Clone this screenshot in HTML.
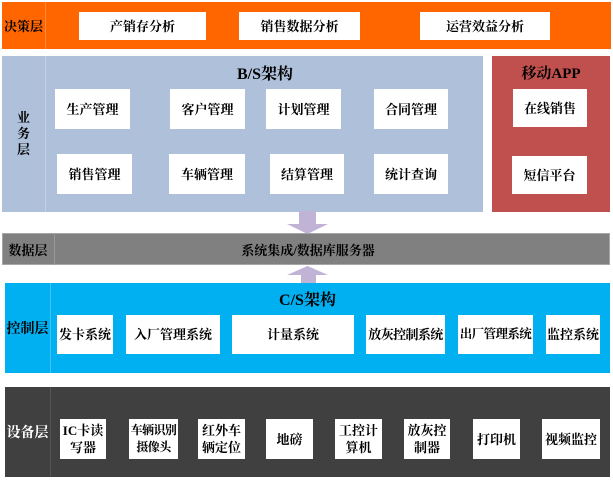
<!DOCTYPE html>
<html><head><meta charset="utf-8"><style>
*{margin:0;padding:0;box-sizing:border-box}
body{width:613px;height:480px;position:relative;background:#fff;overflow:hidden;font-family:"Liberation Serif","Noto Serif CJK SC",serif;font-weight:bold;color:#000}
.a{position:absolute}
.b{position:absolute;background:#fff;display:flex;align-items:center;justify-content:center;text-align:center;font-size:13px;line-height:17px;white-space:nowrap}
.lbl{position:absolute;display:flex;align-items:center;justify-content:center;font-size:13px;text-align:center}
.sep{position:absolute;width:1px}
.t{letter-spacing:-0.6px}
</style></head><body>
<!-- decision -->
<div class="a" style="left:2px;top:2px;width:609px;height:47px;background:#FF6600"></div>
<div class="sep" style="left:45px;top:2px;height:47px;background:#FF8A40"></div>
<div class="lbl" style="left:2px;top:2px;width:43px;height:47px">决策层</div>
<div class="b" style="left:79px;top:12px;width:127px;height:28px">产销存分析</div>
<div class="b" style="left:239px;top:12px;width:121px;height:28px">销售数据分析</div>
<div class="b" style="left:420px;top:12px;width:130px;height:28px">运营效益分析</div>
<!-- business -->
<div class="a" style="left:2px;top:56px;width:481px;height:156px;background:#AFC1DA"></div>
<div class="sep" style="left:45px;top:56px;height:156px;background:#C3D1E4"></div>
<div class="lbl" style="left:2px;top:56px;width:43px;height:156px;line-height:16px">业<br>务<br>层</div>
<div class="lbl" style="left:200px;top:62px;width:130px;height:20px;font-size:16px">B/S架构</div>
<div class="b" style="left:55px;top:89px;width:75px;height:40px">生产管理</div>
<div class="b" style="left:170px;top:89px;width:75px;height:40px">客户管理</div>
<div class="b" style="left:266px;top:89px;width:75px;height:40px">计划管理</div>
<div class="b" style="left:374px;top:89px;width:74px;height:40px">合同管理</div>
<div class="b" style="left:57px;top:154px;width:75px;height:40px">销售管理</div>
<div class="b" style="left:169px;top:154px;width:76px;height:40px">车辆管理</div>
<div class="b" style="left:270px;top:154px;width:74px;height:40px">结算管理</div>
<div class="b" style="left:374px;top:154px;width:74px;height:40px">统计查询</div>
<!-- mobile -->
<div class="a" style="left:492px;top:56px;width:118px;height:156px;background:#C0504D"></div>
<div class="lbl" style="left:492px;top:62px;width:118px;height:20px;font-size:15px">移动APP</div>
<div class="b" style="left:513px;top:89px;width:74px;height:38px">在线销售</div>
<div class="b" style="left:512px;top:156px;width:75px;height:38px">短信平台</div>
<!-- down arrow -->
<svg class="a" style="left:285px;top:211px" width="45" height="24"><polygon points="14,0 31,0 31,13 43,13 22.5,23 2,13 14,13" fill="#C1B3D6"/></svg>
<!-- data layer -->
<div class="a" style="left:2px;top:233px;width:608px;height:32px;background:#808080;border:1px solid #A6A6A6"></div>
<div class="sep" style="left:54px;top:233px;height:32px;background:#999"></div>
<div class="lbl" style="left:2px;top:233px;width:52px;height:32px">数据层</div>
<div class="lbl" style="left:200px;top:233px;width:216px;height:32px">系统集成/数据库服务器</div>
<!-- up arrow -->
<svg class="a" style="left:285px;top:265px" width="45" height="19"><polygon points="22.5,1 43,10 31,10 31,18 16,18 16,10 2,10" fill="#C1B3D6"/></svg>
<!-- control -->
<div class="a" style="left:5px;top:283px;width:605px;height:90px;background:#00B0F0"></div>
<div class="sep" style="left:50px;top:283px;height:90px;background:#40C4F4"></div>
<div class="lbl" style="left:5px;top:283px;width:45px;height:90px;font-size:14px">控制层</div>
<div class="lbl" style="left:250px;top:288px;width:115px;height:20px;font-size:16px">C/S架构</div>
<div class="b" style="left:57px;top:315px;width:56px;height:39px">发卡系统</div>
<div class="b" style="left:126px;top:315px;width:94px;height:39px">入厂管理系统</div>
<div class="b" style="left:232px;top:315px;width:122px;height:39px">计量系统</div>
<div class="b t" style="left:366px;top:315px;width:79px;height:39px">放灰控制系统</div>
<div class="b t" style="left:458px;top:315px;width:75px;height:39px;font-size:12.5px">出厂管理系统</div>
<div class="b" style="left:546px;top:315px;width:54px;height:39px">监控系统</div>
<!-- device -->
<div class="a" style="left:5px;top:387px;width:605px;height:90px;background:#404040"></div>
<div class="sep" style="left:50px;top:387px;height:90px;background:#555"></div>
<div class="lbl" style="left:5px;top:387px;width:45px;height:90px;font-size:14px;color:#fff">设备层</div>
<div class="b" style="left:60px;top:419px;width:46px;height:40px">IC卡读<br>写器</div>
<div class="b t" style="left:129px;top:419px;width:49px;height:40px;font-size:12px">车辆识别<br>摄像头</div>
<div class="b" style="left:198px;top:419px;width:47px;height:40px">红外车<br>辆定位</div>
<div class="b" style="left:266px;top:419px;width:47px;height:40px">地磅</div>
<div class="b" style="left:335px;top:419px;width:47px;height:40px">工控计<br>算机</div>
<div class="b" style="left:404px;top:419px;width:46px;height:40px">放灰控<br>制器</div>
<div class="b" style="left:473px;top:419px;width:47px;height:40px">打印机</div>
<div class="b" style="left:542px;top:419px;width:58px;height:40px">视频监控</div>
</body></html>
